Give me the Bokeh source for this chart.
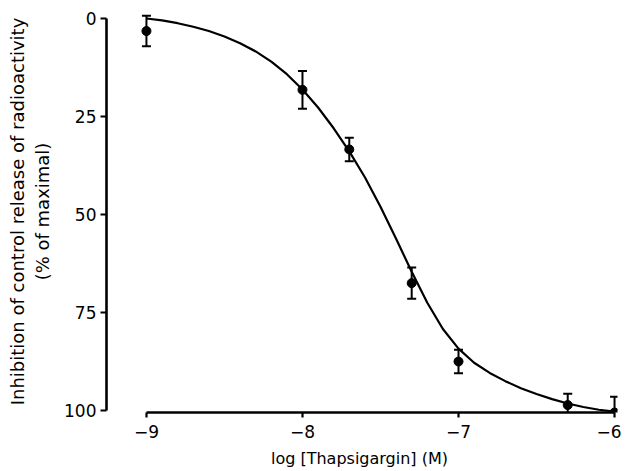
from bokeh.plotting import figure
from bokeh.models import Range1d, FixedTicker
from bokeh.embed import file_html
from bokeh.resources import INLINE

# Data
log_conc = [-9.0, -8.0, -7.7, -7.3, -7.0, -6.3, -6.0]
inhibition = [3.2, 18.2, 33.4, 67.5, 87.5, 98.6, 100.5]
sem = [3.9, 4.8, 3.0, 4.0, 3.0, 2.9, 4.0]

# fitted curve
fit_x = [-9.0, -8.9, -8.8, -8.7, -8.6, -8.5, -8.4, -8.3, -8.2, -8.1, -8.0,
         -7.9, -7.8, -7.7, -7.6, -7.5, -7.4, -7.3, -7.2, -7.1, -7.0,
         -6.9, -6.8, -6.7, -6.6, -6.5, -6.4, -6.3, -6.2, -6.1, -6.0]
fit_y = [0.0, 0.5, 1.2, 2.1, 3.2, 4.6, 6.3, 8.4, 11.0, 14.2, 18.1,
         22.7, 28.0, 33.9, 40.5, 48.0, 56.2, 64.6, 72.5, 79.2, 84.2,
         87.8, 90.4, 92.5, 94.3, 95.8, 97.1, 98.2, 99.1, 99.8, 100.3]

x_ticks = [-9, -8, -7, -6]
x_tick_labels = ["\u22129", "\u22128", "\u22127", "\u22126"]
y_ticks = [0, 25, 50, 75, 100]
x_title = "log  [Thapsigargin] (M)"
y_title = "Inhibition of control release of radioactivity\n(% of maximal)"

FONT = "DejaVu Sans"

p = figure(width=621, height=470, output_backend="svg", toolbar_location=None,
           x_range=Range1d(-9.256, -5.981), y_range=Range1d(100.5, -2.04),
           min_border_left=106, min_border_right=4, min_border_top=10,
           min_border_bottom=58)

p.grid.visible = False
p.outline_line_color = None
p.background_fill_color = "white"
p.border_fill_color = "white"

# fitted curve
p.line(fit_x, fit_y, line_color="black", line_width=2.2)

# error bars
lower = [v - e for v, e in zip(inhibition, sem)]
upper = [v + e for v, e in zip(inhibition, sem)]
p.segment(x0=log_conc, y0=lower, x1=log_conc, y1=upper, line_color="black", line_width=2)
p.scatter(log_conc, lower, marker="dash", size=9, line_color="black", line_width=2)
p.scatter(log_conc, upper, marker="dash", size=9, line_color="black", line_width=2)

# points
p.scatter(log_conc, inhibition, marker="circle", size=9, fill_color="black", line_color="black")

# axes
xa = p.xaxis[0]
xa.ticker = FixedTicker(ticks=x_ticks)
xa.major_label_overrides = {t: l for t, l in zip(x_ticks, x_tick_labels)}
xa.bounds = (-9, -6)
xa.axis_label = x_title
xa.minor_tick_line_color = None
xa.major_tick_in = 0
xa.major_tick_out = 5
xa.axis_line_width = 2.6
xa.major_tick_line_width = 2.2
xa.major_label_standoff = 7
xa.axis_label_standoff = 8
xa.axis_label_text_font_size = "16px"

ya = p.yaxis[0]
ya.ticker = FixedTicker(ticks=y_ticks)
ya.bounds = (0, 100)
ya.axis_label = y_title
ya.minor_tick_line_color = None
ya.major_tick_in = 0
ya.major_tick_out = 6
ya.axis_line_width = 2.6
ya.major_tick_line_width = 2.2
ya.major_label_standoff = 4
ya.axis_label_standoff = 8
ya.axis_label_text_font_size = "18px"

for ax in (xa, ya):
    ax.axis_line_color = "black"
    ax.major_tick_line_color = "black"
    ax.major_label_text_font = FONT
    ax.major_label_text_font_size = "17px"
    ax.major_label_text_color = "black"
    ax.axis_label_text_font = FONT
    ax.axis_label_text_font_style = "normal"
    ax.axis_label_text_color = "black"

open("out.html", "w").write(file_html(p, INLINE))
